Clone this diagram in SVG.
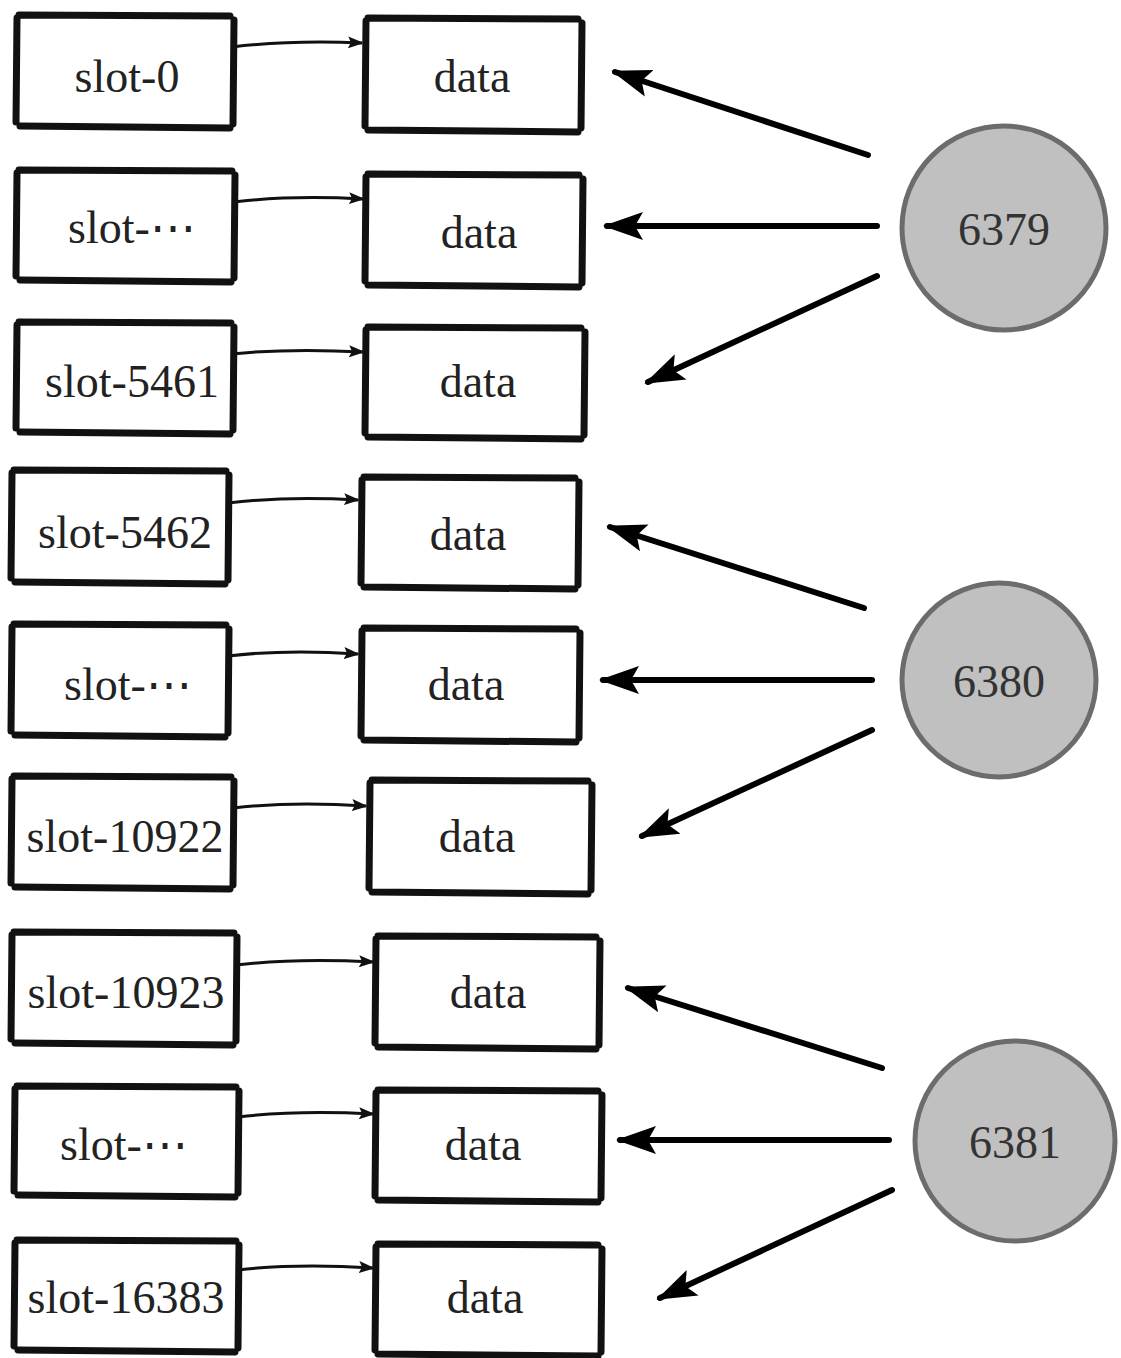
<svg xmlns="http://www.w3.org/2000/svg" width="1121" height="1358" viewBox="0 0 1121 1358">
<style>
.box{fill:none;stroke:#111;stroke-width:7;stroke-linecap:round}
.t{font-family:"Liberation Serif","DejaVu Serif",serif;font-size:46px;fill:#222;text-anchor:middle}
.c{fill:#c0c0c0;stroke:#6c6c6c;stroke-width:5}
.ct{font-family:"Liberation Serif","DejaVu Serif",serif;font-size:46px;fill:#333;text-anchor:middle}
.thin{fill:none;stroke:#111;stroke-width:3;marker-end:url(#sm)}
.thick{fill:none;stroke:#000;stroke-width:6;stroke-linecap:round;marker-end:url(#bg)}
</style>
<defs>
<marker id="sm" markerUnits="userSpaceOnUse" viewBox="0 0 16 12" refX="14" refY="6" markerWidth="16" markerHeight="12" orient="auto"><path d="M0,0 L16,6 L0,12 L3,6 Z" fill="#111"/></marker>
<marker id="bg" markerUnits="userSpaceOnUse" viewBox="0 0 40 32" refX="36" refY="16" markerWidth="40" markerHeight="32" orient="auto"><path d="M0,2 L40,16 L0,30 L8,16 Z" fill="#000"/></marker>
</defs>
<g id="connectors">
<path class="thin" d="M232,47 Q290,40 362,43"/>
<path class="thin" d="M234,202 Q292,195 363,199"/>
<path class="thin" d="M232,354 Q290,348 363,352"/>
<path class="thin" d="M228,503 Q286,496 358,500"/>
<path class="thin" d="M228,656 Q286,649 358,654"/>
<path class="thin" d="M233,808 Q292,801 366,806"/>
<path class="thin" d="M236,965 Q295,958 373,962"/>
<path class="thin" d="M238,1117 Q297,1110 373,1114"/>
<path class="thin" d="M238,1270 Q297,1263 373,1268"/>
<path class="thick" d="M868,155 L615,72"/>
<path class="thick" d="M877,226 L607,226"/>
<path class="thick" d="M877,276 L648,382"/>
<path class="thick" d="M864,608 L610,527"/>
<path class="thick" d="M872,680 L603,680"/>
<path class="thick" d="M872,730 L642,836"/>
<path class="thick" d="M882,1068 L628,988"/>
<path class="thick" d="M889,1140 L620,1140"/>
<path class="thick" d="M892,1190 L660,1298"/>
</g>
<g id="slot-0"><path class="box" d="M19,15 L230,16 M234,20 L233,124 M230,128 L20,126 M16,122 L17,18"/><text class="t" x="127" y="92">slot-0</text></g>
<g id="data-1"><path class="box" d="M368,18 L578,19 M582,23 L581,128 M578,132 L368,130 M365,126 L366,21"/><text class="t" x="472" y="92">data</text></g>
<g id="slot-dots-1"><path class="box" d="M19,170 L232,171 M235,175 L234,278 M231,282 L20,280 M16,276 L17,173"/><text class="t" x="132" y="243">slot-⋯</text></g>
<g id="data-2"><path class="box" d="M368,174 L579,175 M583,179 L582,283 M579,287 L368,285 M365,281 L366,177"/><text class="t" x="479" y="248">data</text></g>
<g id="slot-5461"><path class="box" d="M19,322 L231,323 M234,327 L233,430 M230,434 L20,432 M16,428 L17,325"/><text class="t" x="132" y="397">slot-5461</text></g>
<g id="data-3"><path class="box" d="M368,327 L581,328 M585,332 L584,435 M581,439 L368,437 M365,433 L366,330"/><text class="t" x="478" y="397">data</text></g>
<g id="slot-5462"><path class="box" d="M14,470 L226,471 M229,475 L228,580 M225,584 L15,582 M11,578 L12,473"/><text class="t" x="125" y="548">slot-5462</text></g>
<g id="data-4"><path class="box" d="M364,477 L575,478 M579,482 L578,585 M575,589 L364,587 M361,583 L362,480"/><text class="t" x="468" y="550">data</text></g>
<g id="slot-dots-2"><path class="box" d="M14,624 L226,625 M229,629 L228,733 M225,737 L15,735 M11,731 L12,627"/><text class="t" x="128" y="700">slot-⋯</text></g>
<g id="data-5"><path class="box" d="M364,628 L576,629 M580,633 L579,738 M576,742 L364,740 M361,736 L362,631"/><text class="t" x="466" y="700">data</text></g>
<g id="slot-10922"><path class="box" d="M14,776 L231,777 M234,781 L233,885 M230,889 L15,887 M11,883 L12,779"/><text class="t" x="125" y="852">slot-10922</text></g>
<g id="data-6"><path class="box" d="M372,780 L588,781 M592,785 L591,890 M588,894 L372,892 M369,888 L370,783"/><text class="t" x="477" y="852">data</text></g>
<g id="slot-10923"><path class="box" d="M14,932 L234,933 M237,937 L236,1041 M233,1045 L15,1043 M11,1039 L12,935"/><text class="t" x="126" y="1008">slot-10923</text></g>
<g id="data-7"><path class="box" d="M378,936 L596,937 M600,941 L599,1045 M596,1049 L378,1047 M375,1043 L376,939"/><text class="t" x="488" y="1008">data</text></g>
<g id="slot-dots-3"><path class="box" d="M17,1086 L236,1087 M239,1091 L238,1193 M235,1197 L18,1195 M14,1191 L15,1089"/><text class="t" x="124" y="1160">slot-⋯</text></g>
<g id="data-8"><path class="box" d="M378,1090 L598,1091 M602,1095 L601,1198 M598,1202 L378,1200 M375,1196 L376,1093"/><text class="t" x="483" y="1160">data</text></g>
<g id="slot-16383"><path class="box" d="M17,1240 L236,1241 M239,1245 L238,1348 M235,1352 L18,1350 M14,1346 L15,1243"/><text class="t" x="126" y="1313">slot-16383</text></g>
<g id="data-9"><path class="box" d="M378,1244 L598,1245 M602,1249 L601,1352 M598,1356 L378,1354 M375,1350 L376,1247"/><text class="t" x="485" y="1313">data</text></g>
<g id="node-6379"><circle class="c" cx="1004" cy="228" r="102"/><text class="ct" x="1004" y="245">6379</text></g>
<g id="node-6380"><circle class="c" cx="999" cy="680" r="97"/><text class="ct" x="999" y="697">6380</text></g>
<g id="node-6381"><circle class="c" cx="1015" cy="1141" r="100"/><text class="ct" x="1015" y="1158">6381</text></g>
</svg>
